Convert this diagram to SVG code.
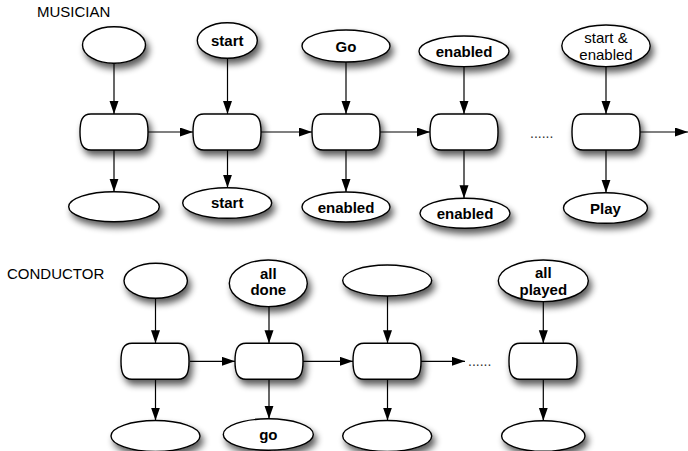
<svg xmlns="http://www.w3.org/2000/svg" width="688" height="451" viewBox="0 0 688 451">
<style>
.sh{stroke:#000;stroke-width:1.4;fill:#fff;filter:url(#ds)}
.ln{stroke:#000;stroke-width:1.2;fill:none;marker-end:url(#ah)}
.t{font-family:"Liberation Sans",Arial,sans-serif;font-size:15px;text-anchor:middle;fill:#000}
.b{font-weight:bold}
.lab{font-family:"Liberation Sans",Arial,sans-serif;font-size:15px;fill:#000}
.dots{font-family:"Liberation Sans",Arial,sans-serif;font-size:14px;fill:#333}
</style>
<defs>
<filter id="ds" x="-30%" y="-30%" width="170%" height="190%">
<feGaussianBlur in="SourceAlpha" stdDeviation="3.5"/>
<feOffset dx="3" dy="5" result="o"/>
<feComponentTransfer><feFuncA type="linear" slope="0.65"/></feComponentTransfer>
<feMerge><feMergeNode/><feMergeNode in="SourceGraphic"/></feMerge>
</filter>
<marker id="ah" markerUnits="userSpaceOnUse" markerWidth="14" markerHeight="10" refX="13" refY="4.5" orient="auto">
<path d="M0,0 L13,4.5 L0,9 Z" fill="#000"/>
</marker>
<path id="pr" d="M11,0 H57 C66,0 68,7 68,18 C68,29 66,36 57,36 H11 C2,36 0,29 0,18 C0,7 2,0 11,0 Z"/>
</defs>

<text class="lab" x="37" y="17">MUSICIAN</text>
<text class="lab" x="7" y="279">CONDUCTOR</text>

<g id="connectors">
<line class="ln" x1="114" y1="63.5" x2="114" y2="114"/>
<line class="ln" x1="114" y1="150" x2="114" y2="191.7"/>
<line class="ln" x1="227.5" y1="58.5" x2="227.5" y2="114"/>
<line class="ln" x1="227.5" y1="150" x2="227.5" y2="187.7"/>
<line class="ln" x1="346" y1="62" x2="346" y2="114"/>
<line class="ln" x1="346" y1="150" x2="346" y2="192"/>
<line class="ln" x1="464" y1="66.6" x2="464" y2="114"/>
<line class="ln" x1="464" y1="150" x2="464" y2="198.3"/>
<line class="ln" x1="606" y1="66.6" x2="606" y2="114"/>
<line class="ln" x1="606" y1="150" x2="606" y2="192.7"/>
<line class="ln" x1="148" y1="132" x2="193" y2="132"/>
<line class="ln" x1="261" y1="132" x2="312" y2="132"/>
<line class="ln" x1="380" y1="132" x2="430" y2="132"/>
<line class="ln" x1="640" y1="132" x2="688" y2="132"/>
<line class="ln" x1="155.5" y1="298.3" x2="155.5" y2="343.3"/>
<line class="ln" x1="155.5" y1="379.3" x2="155.5" y2="420.5"/>
<line class="ln" x1="269" y1="306.6" x2="269" y2="343.3"/>
<line class="ln" x1="269" y1="379.3" x2="269" y2="418.8"/>
<line class="ln" x1="387.5" y1="296" x2="387.5" y2="343.3"/>
<line class="ln" x1="387.5" y1="379.3" x2="387.5" y2="420.5"/>
<line class="ln" x1="543.3" y1="301.6" x2="543.3" y2="343.3"/>
<line class="ln" x1="543.3" y1="379.3" x2="543.3" y2="420.7"/>
<line class="ln" x1="190" y1="361.3" x2="235" y2="361.3"/>
<line class="ln" x1="303" y1="361.3" x2="353" y2="361.3"/>
<line class="ln" x1="421" y1="361.3" x2="465" y2="361.3"/>
</g>

<text class="dots" x="530" y="137.5">......</text>
<text class="dots" x="468" y="366">......</text>

<g id="m1-in"><ellipse class="sh" cx="114" cy="45" rx="31.5" ry="18.3"/></g>
<g id="m1"><use href="#pr" class="sh" x="80" y="114"/></g>
<g id="m1-out"><ellipse class="sh" cx="114" cy="206.7" rx="45.3" ry="15"/></g>

<g id="m2-in"><ellipse class="sh" cx="227.3" cy="40.5" rx="30" ry="17.8"/><text class="t b" x="227.3" y="45.5">start</text></g>
<g id="m2"><use href="#pr" class="sh" x="193" y="114"/></g>
<g id="m2-out"><ellipse class="sh" cx="227.2" cy="203" rx="44.5" ry="15.3"/><text class="t b" x="227.2" y="208.2">start</text></g>

<g id="m3-in"><ellipse class="sh" cx="346" cy="46" rx="44" ry="16"/><text class="t b" x="346" y="51.5">Go</text></g>
<g id="m3"><use href="#pr" class="sh" x="312" y="114"/></g>
<g id="m3-out"><ellipse class="sh" cx="346" cy="207" rx="44" ry="15"/><text class="t b" x="346" y="212.7">enabled</text></g>

<g id="m4-in"><ellipse class="sh" cx="464" cy="51.3" rx="45" ry="15.3"/><text class="t b" x="464" y="57">enabled</text></g>
<g id="m4"><use href="#pr" class="sh" x="430" y="114"/></g>
<g id="m4-out"><ellipse class="sh" cx="465" cy="213.3" rx="45" ry="15"/><text class="t b" x="465" y="219">enabled</text></g>

<g id="m5-in"><ellipse class="sh" cx="606" cy="45.8" rx="44.2" ry="20.8"/><text class="t" x="606" y="42.5">start &amp;</text><text class="t" x="606" y="59.5">enabled</text></g>
<g id="m5"><use href="#pr" class="sh" x="572" y="114"/></g>
<g id="m5-out"><ellipse class="sh" cx="605.5" cy="208" rx="42" ry="15.3"/><text class="t b" x="605.5" y="214">Play</text></g>

<g id="c1-in"><ellipse class="sh" cx="155.7" cy="280.8" rx="31.7" ry="17.5"/></g>
<g id="c1"><use href="#pr" class="sh" x="121" y="343.3"/></g>
<g id="c1-out"><ellipse class="sh" cx="155.5" cy="436" rx="44.5" ry="15.5"/></g>

<g id="c2-in"><ellipse class="sh" cx="268.3" cy="283.3" rx="39" ry="23.3"/><text class="t b" x="268.3" y="278.5">all</text><text class="t b" x="268.3" y="295">done</text></g>
<g id="c2"><use href="#pr" class="sh" x="235" y="343.3"/></g>
<g id="c2-out"><ellipse class="sh" cx="268.3" cy="434.5" rx="45" ry="15.7"/><text class="t b" x="268.3" y="439.5">go</text></g>

<g id="c3-in"><ellipse class="sh" cx="387.2" cy="280.5" rx="44.5" ry="15.5"/></g>
<g id="c3"><use href="#pr" class="sh" x="353" y="343.3"/></g>
<g id="c3-out"><ellipse class="sh" cx="387.2" cy="436" rx="44.5" ry="15.5"/></g>

<g id="c4-in"><ellipse class="sh" cx="543.3" cy="280.8" rx="45" ry="20.8"/><text class="t b" x="543.3" y="278">all</text><text class="t b" x="543.3" y="295">played</text></g>
<g id="c4"><use href="#pr" class="sh" x="509" y="343.3"/></g>
<g id="c4-out"><ellipse class="sh" cx="543.3" cy="436" rx="41.7" ry="15.3"/></g>
</svg>
